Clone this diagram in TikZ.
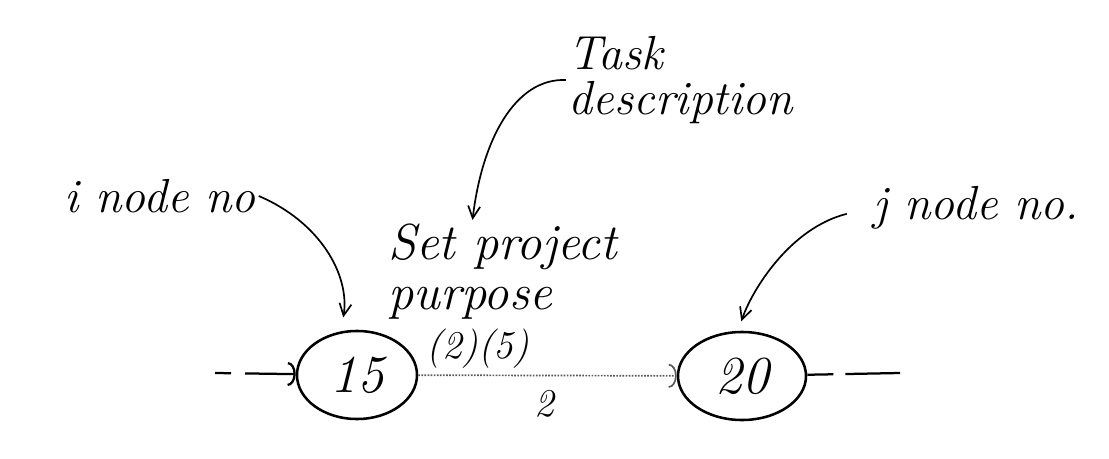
\documentclass[tikz,border=0pt]{standalone}
\usepackage{fontspec}
\usepackage{tikz}
\usetikzlibrary{arrows.meta,positioning,calc,shapes.geometric}

\tikzset{
  event/.style={draw, ellipse, line width=1.8pt, minimum width=3cm, minimum height=2.2cm,
    inner sep=0pt, font=\fontsize{38}{40}\selectfont\itshape},
  note/.style={font=\fontsize{34}{32}\selectfont\itshape, align=left, inner sep=2pt},
  pointer/.style={-{Straight Barb[length=3mm, width=3mm]}, line width=1.2pt},
  dummy/.style={line width=1.6pt, dash pattern=on 0.4cm off 0.35cm on 3cm},
}

\begin{document}
\begin{tikzpicture}[x=0.025cm, y=-0.025cm]
    \useasboundingbox (0,0) rectangle (1109,459);
    % Events
    \node[event] (ev15) at (357,375) {15};
    \node[event, minimum width=3.2cm] (ev20) at (742,376) {20};
    % Activity
    \draw[black!65, line width=1.2pt, densely dotted, -{Arc Barb[length=2mm, width=6mm]}] (ev15) -- (ev20);
    \node[note, font=\fontsize{28}{30}\selectfont\itshape, inner sep=0pt] (res) at (478,349) {(2)(5)};
    \node[note, font=\fontsize{28}{30}\selectfont\itshape] (dur) at (544,404) {2};
    \node[note, anchor=north west, inner sep=0pt, font=\fontsize{36}{35}\selectfont\itshape] (act) at (388,224) {Set project\\purpose};
    % Dummy ends
    \coordinate (in) at (215,373);
    \coordinate (out) at (900,373);
    \draw[dummy, -{Arc Barb[length=2mm, width=6mm]}] (in) -- (ev15);
    \draw[dummy, dash pattern=on 0.65cm off 0.3cm on 3cm] (ev20) -- (out);
    % Notes
    \node[note] (task) at (681,80) {Task\\description};
    \node[note] (inote) at (160,196) {i node no};
    \node[note] (jnote) at (976,208) {j node no.};
    % Pointers
    \draw[pointer] (task.west) .. controls (515,78) and (482,140) .. ([xshift=-0.75cm, yshift=0.1cm]act.north);
    \draw[pointer, shorten >=0.35cm] (inote.east) .. controls (320,222) and (350,275) .. (ev15.110);
    \draw[pointer, shorten <=0.6cm, shorten >=0.25cm] (jnote.west) .. controls (790,228) and (752,290) .. (ev20.95);
\end{tikzpicture}
\end{document}
